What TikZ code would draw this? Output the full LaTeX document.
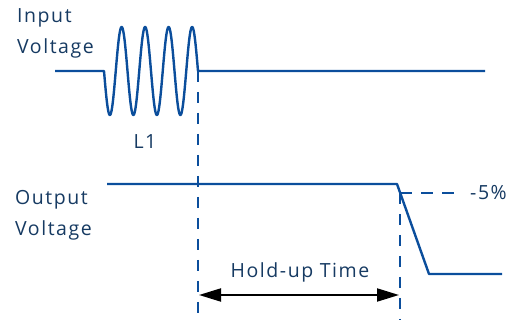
\documentclass[tikz,border=0pt]{standalone}
\usepackage{fontspec}
\setmainfont{Open Sans}[LetterSpace=8]
\usetikzlibrary{arrows.meta}
\definecolor{wave}{HTML}{0B4E9C}
\definecolor{txt}{HTML}{163A62}
\begin{document}
\begin{tikzpicture}[x=1pt,y=-1pt,
  sig/.style={draw=wave,line width=2.4pt,line join=round},
  guide/.style={draw=wave,line width=2.4pt,dash pattern=on 11pt off 10pt},
  lbl/.style={text=txt,font=\fontsize{19.5}{30}\selectfont,inner sep=0pt},
  dim/.style={draw=black,line width=2pt,{Triangle[length=22pt,width=13pt]}-{Triangle[length=22pt,width=13pt]}}]
\useasboundingbox (0,0) rectangle (520,320);
% labels
\node[lbl,anchor=west] (in1) at (17,18) {Input};
\node[lbl,anchor=west] (in2) at (17,48) {Voltage};
\node[lbl,anchor=west] (out1) at (15,200) {Output};
\node[lbl,anchor=west] (out2) at (15,230) {Voltage};
\node[lbl] (l1) at (145,142) {L1};
% coordinates
\coordinate (a0) at (55,71);
\coordinate (a1) at (104,71);
\coordinate (a2) at (198,71);
\coordinate (a3) at (485,71);
\coordinate (b0) at (107,184);
\coordinate (b1) at (397,184);
\coordinate (b2) at (429,274);
\coordinate (b3) at (502,274);
\coordinate (d1top) at (198,71);
\coordinate (d1bot) at (198,320);
\coordinate (d2top) at (400,193);
\coordinate (d2bot) at (400,320);
\coordinate (p5) at (462,193);
% input voltage
\draw[sig] (a0) -- (a1)
  -- plot[domain=0:4,samples=300] ({104+23.5*\x},{71+44*sin(\x*360)})
  -- (a2) -- (a3);
% output voltage
\draw[sig] (b0) -- (b1) -- (b2) -- (b3);
% guides
\draw[guide] (d1top) -- (d1bot);
\draw[guide] (d2top) -- (d2bot);
\draw[guide,dash pattern=on 12pt off 9pt] (d2top) -- (p5);
\node[lbl,anchor=west] (pct) at (470,193) {-5\%};
% hold-up time
\coordinate (h1) at (199,295);
\coordinate (h2) at (399,295);
\draw[dim] (h1) -- (h2);
\node[lbl] (hut) at (300,272) {Hold-up Time};
\end{tikzpicture}
\end{document}
